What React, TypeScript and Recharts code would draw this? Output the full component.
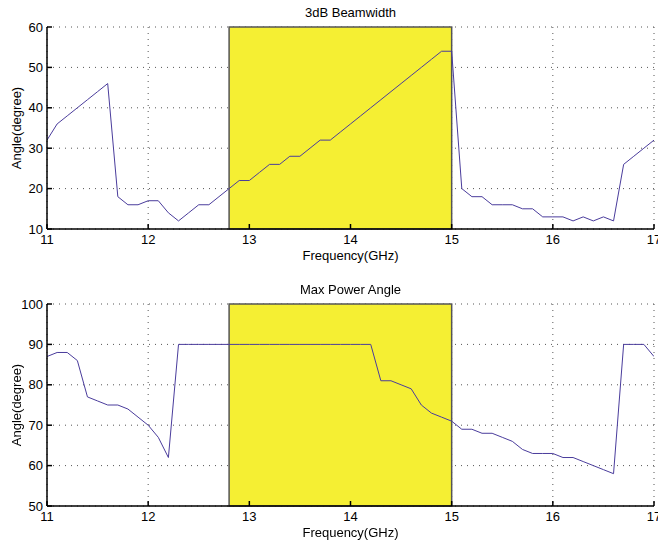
import { LineChart, Line, XAxis, YAxis, CartesianGrid, ReferenceArea } from 'recharts';

const FONT = "'Liberation Sans', Arial, Helvetica, sans-serif";

// frequency samples (GHz)
const freqGHz = [
  11.0, 11.1, 11.2, 11.3, 11.4, 11.5, 11.6, 11.7, 11.8, 11.9,
  12.0, 12.1, 12.2, 12.3, 12.4, 12.5, 12.6, 12.7, 12.8, 12.9,
  13.0, 13.1, 13.2, 13.3, 13.4, 13.5, 13.6, 13.7, 13.8, 13.9,
  14.0, 14.1, 14.2, 14.3, 14.4, 14.5, 14.6, 14.7, 14.8, 14.9,
  15.0, 15.1, 15.2, 15.3, 15.4, 15.5, 15.6, 15.7, 15.8, 15.9,
  16.0, 16.1, 16.2, 16.3, 16.4, 16.5, 16.6, 16.7, 16.8, 16.9,
  17.0,
];

// 3dB beamwidth (degree)
const beamwidth = [
  32, 36, 38, 40, 42, 44, 46, 18, 16, 16,
  17, 17, 14, 12, 14, 16, 16, 18, 20, 22,
  22, 24, 26, 26, 28, 28, 30, 32, 32, 34,
  36, 38, 40, 42, 44, 46, 48, 50, 52, 54,
  54, 20, 18, 18, 16, 16, 16, 15, 15, 13,
  13, 13, 12, 13, 12, 13, 12, 26, 28, 30,
  32,
];

// max power angle (degree)
const maxPowerAngle = [
  87, 88, 88, 86, 77, 76, 75, 75, 74, 72,
  70, 67, 62, 90, 90, 90, 90, 90, 90, 90,
  90, 90, 90, 90, 90, 90, 90, 90, 90, 90,
  90, 90, 90, 81, 81, 80, 79, 75, 73, 72,
  71, 69, 69, 68, 68, 67, 66, 64, 63, 63,
  63, 62, 62, 61, 60, 59, 58, 90, 90, 90,
  87,
];

const xTicks = [11, 12, 13, 14, 15, 16, 17];
const beamTicks = [10, 20, 30, 40, 50, 60];
const angleTicks = [50, 60, 70, 80, 90, 100];
const band = [12.8, 15.0];

const W = 658;
const H = 262;
const tickStyle = { fill: '#000', fontSize: 13, fontFamily: FONT };
const frame = { stroke: '#000', strokeWidth: 1.5 };
const blank = () => '';

interface PanelProps {
  top: number;
  title: string;
  values: number[];
  yTicks: number[];
}

function Panel({ top, title, values, yTicks }: PanelProps) {
  const data = freqGHz.map((f, i) => ({ f, v: values[i] }));
  const yDomain: [number, number] = [yTicks[0], yTicks[yTicks.length - 1]];
  return (
    <div style={{ position: 'absolute', left: 0, top, width: W, height: H }}>
      <LineChart width={W} height={H} data={data} margin={{ top: 27, right: 4, bottom: 0, left: 0 }}>
        <XAxis
          xAxisId="b"
          type="number"
          dataKey="f"
          domain={[11, 17]}
          ticks={xTicks}
          interval={0}
          allowDataOverflow
          height={33}
          tickSize={-5}
          tickMargin={11}
          tick={tickStyle}
          tickLine={frame}
          axisLine={frame}
        />
        <XAxis
          xAxisId="t"
          orientation="top"
          type="number"
          dataKey="f"
          domain={[11, 17]}
          ticks={xTicks}
          interval={0}
          height={0}
          tickSize={-5}
          tickFormatter={blank}
          tickLine={frame}
          axisLine={frame}
        />
        <YAxis
          yAxisId="l"
          type="number"
          domain={yDomain}
          ticks={yTicks}
          interval={0}
          allowDataOverflow
          width={47}
          tickSize={-5}
          tickMargin={9}
          tick={tickStyle}
          tickLine={frame}
          axisLine={frame}
        />
        <YAxis
          yAxisId="r"
          orientation="right"
          type="number"
          domain={yDomain}
          ticks={yTicks}
          interval={0}
          width={0}
          tickSize={-5}
          tickFormatter={blank}
          tickLine={frame}
          axisLine={frame}
        />
        <ReferenceArea
          xAxisId="b"
          yAxisId="l"
          x1={band[0]}
          x2={band[1]}
          fill="#f5ef33"
          fillOpacity={1}
          stroke="#555"
          strokeWidth={1.5}
        />
        <CartesianGrid
          xAxisId="b"
          yAxisId="l"
          stroke="#555"
          strokeDasharray="1 5"
          horizontalValues={yTicks}
          verticalValues={xTicks}
        />
        <Line
          xAxisId="b"
          yAxisId="l"
          type="linear"
          dataKey="v"
          stroke="#4a3c9c"
          strokeWidth={1}
          dot={false}
          isAnimationActive={false}
        />
      </LineChart>
      <svg
        width={W}
        height={H + 6}
        style={{ position: 'absolute', left: 0, top: 0, pointerEvents: 'none', overflow: 'visible' }}
        fontFamily={FONT}
        fontSize={13}
        fill="#000"
      >
        <text x={350.5} y={16.5} textAnchor="middle">{title}</text>
        <text x={350.5} y={260} textAnchor="middle">Frequency(GHz)</text>
        <text x={21} y={128} textAnchor="middle" transform="rotate(-90 21 128)">Angle(degree)</text>
      </svg>
    </div>
  );
}

export default function App() {
  return (
    <div style={{ position: 'fixed', left: 0, top: 0, width: W, height: 544, background: '#fff' }}>
      <Panel top={0} title="3dB Beamwidth" values={beamwidth} yTicks={beamTicks} />
      <Panel top={277} title="Max Power Angle" values={maxPowerAngle} yTicks={angleTicks} />
    </div>
  );
}
